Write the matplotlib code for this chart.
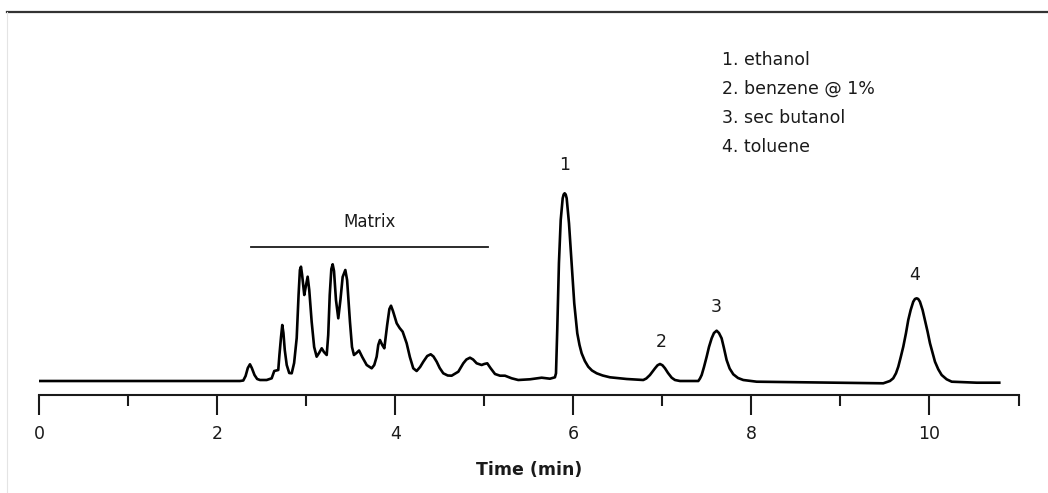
import numpy as np
import matplotlib.pyplot as plt
from matplotlib.lines import Line2D

# chromatogram trace (time in min, detector response in arbitrary units)
time_min = [0.01, 2.257, 2.294, 2.32, 2.345, 2.369, 2.39, 2.42, 2.45, 2.482,
            2.557, 2.613, 2.642, 2.687, 2.70, 2.718, 2.732, 2.745, 2.76, 2.782,
            2.81, 2.838, 2.865, 2.894, 2.915, 2.93, 2.942, 2.955, 2.979, 2.995,
            3.017, 3.035, 3.062, 3.09, 3.118, 3.145, 3.175, 3.2, 3.231, 3.248,
            3.265, 3.283, 3.298, 3.313, 3.335, 3.361, 3.385, 3.41, 3.44, 3.46,
            3.475, 3.492, 3.515, 3.537, 3.565, 3.594, 3.63, 3.680, 3.736, 3.765,
            3.792, 3.81, 3.829, 3.855, 3.878, 3.91, 3.935, 3.953, 3.975, 4.017,
            4.05, 4.084, 4.129, 4.165, 4.203, 4.241, 4.28, 4.316, 4.36, 4.399,
            4.43, 4.466, 4.50, 4.540, 4.59, 4.634, 4.709, 4.74, 4.765, 4.80,
            4.840, 4.875, 4.915, 4.971, 5.0, 5.034, 5.07, 5.121, 5.177, 5.233,
            5.27, 5.308, 5.382, 5.514, 5.645, 5.738, 5.794, 5.806, 5.820, 5.839,
            5.859, 5.881, 5.892, 5.903, 5.915, 5.926, 5.952, 5.982, 6.011, 6.045,
            6.07, 6.094, 6.13, 6.168, 6.21, 6.263, 6.33, 6.412, 6.600, 6.786,
            6.82, 6.861, 6.89, 6.918, 6.946, 6.974, 7.002, 7.030, 7.064, 7.105,
            7.142, 7.198, 7.404, 7.423, 7.442, 7.468, 7.498, 7.524, 7.554, 7.580,
            7.610, 7.636, 7.666, 7.692, 7.722, 7.756, 7.797, 7.85, 7.909, 8.060,
            9.219, 9.481, 9.556, 9.593, 9.624, 9.650, 9.677, 9.706, 9.736, 9.762,
            9.789, 9.818, 9.837, 9.856, 9.874, 9.893, 9.923, 9.949, 9.979, 10.006,
            10.036, 10.062, 10.099, 10.137, 10.193, 10.250, 10.531, 10.784]
response = [14, 14, 14.5, 19, 27, 30.7, 27, 20, 16, 15,
            15, 16.7, 24, 25, 40, 58, 70, 62, 45, 30,
            22, 21.7, 32, 57, 100, 125, 128.3, 120, 100, 108,
            118.3, 105, 73.3, 48, 38.3, 42, 46.7, 43, 40, 60,
            100, 126, 130.7, 124, 95, 76.7, 95, 118, 125, 115,
            95, 73.3, 48, 40, 42, 44.5, 38, 30, 26.7, 30,
            38.3, 50, 55, 50, 46.7, 70, 86, 89.3, 84, 71.7,
            67, 63.3, 51.7, 38, 26.7, 24, 28, 33.3, 39, 40.7,
            38.5, 33.3, 27, 21.7, 19.5, 19.3, 23.3, 28, 31.7, 35.5,
            37.3, 35.5, 31.7, 30, 31, 31.7, 27, 21, 19.3, 19.3,
            18, 16.7, 15, 15.7, 17.3, 16.3, 17.7, 21.7, 65, 132,
            175, 196.7, 200.5, 201.7, 200.5, 196.7, 171.7, 131.7, 91.7, 61.7,
            50, 41.7, 34, 28.3, 24.5, 21.7, 19.5, 17.7, 16, 15,
            16.5, 20, 23.5, 26.7, 29.7, 31, 29.7, 26.7, 22, 17.3,
            15, 14, 14, 16.5, 20, 28, 38.3, 48, 56.7, 62,
            64.3, 62, 56.7, 47, 35, 26.5, 20.7, 17, 15, 13.3,
            12, 11.7, 14, 16.7, 21.7, 28.3, 37.7, 48.3, 61.7, 75,
            85, 93.3, 96, 96.7, 96, 93.3, 85, 75, 63.3, 51.7,
            41.7, 33.3, 25.7, 20, 15.7, 13.3, 12.3, 12.3]

peak_ids = ["1", "2", "3", "4"]
peak_label_t = [5.907, 6.99, 7.60, 9.837]
peak_label_y = [230, 53.3, 87.7, 119.7]
compounds = ["1. ethanol", "2. benzene @ 1%", "3. sec butanol", "4. toluene"]
matrix_span = [2.378, 5.046]

ink = "#1a1a1a"
fig = plt.figure(figsize=(10.48, 4.93), dpi=100)
ax = fig.add_axes([39 / 1048, 98 / 493, 979.5 / 1048, 375 / 493])

ax.plot(time_min, response, color="black", lw=1.9, solid_joinstyle="round")

ax.set_xlim(0, 11)
ax.set_ylim(0, 375)
for s in ["top", "right", "left"]:
    ax.spines[s].set_visible(False)
ax.spines["bottom"].set_color(ink)
ax.spines["bottom"].set_linewidth(1.5)
ax.set_yticks([])
ax.set_xticks([0, 2, 4, 6, 8, 10])
ax.set_xticks([1, 3, 5, 7, 9, 11], minor=True)
ax.tick_params(axis="x", which="major", direction="out", length=14.5, width=1.5,
               color=ink, labelsize=12.5, labelcolor=ink, pad=7)
ax.tick_params(axis="x", which="minor", direction="out", length=8, width=1.5, color=ink)
ax.set_xlabel("Time (min)", fontsize=12.5, fontweight="bold", color=ink, labelpad=13)

# matrix bar and label
ax.plot(matrix_span, [147.7, 147.7], color=ink, lw=1.3)
ax.text(np.mean(matrix_span), 173.3, "Matrix", ha="center", va="center", fontsize=12, color=ink)

for pid, t, y in zip(peak_ids, peak_label_t, peak_label_y):
    ax.text(t, y, pid, ha="center", va="center", fontsize=12.5, color=ink)

for i, name in enumerate(compounds):
    ax.text(7.667, 335 - i * 29, name, ha="left", va="center", fontsize=12.5, color=ink)

# frame lines of the original figure
fig.add_artist(Line2D([7 / 1048, 1], [1 - 12 / 493] * 2, transform=fig.transFigure,
                      color="#333333", lw=1.6))
fig.add_artist(Line2D([7 / 1048] * 2, [0, 1 - 12 / 493], transform=fig.transFigure,
                      color="#e4e4e4", lw=0.8))

fig.savefig("out.png", dpi=100)
